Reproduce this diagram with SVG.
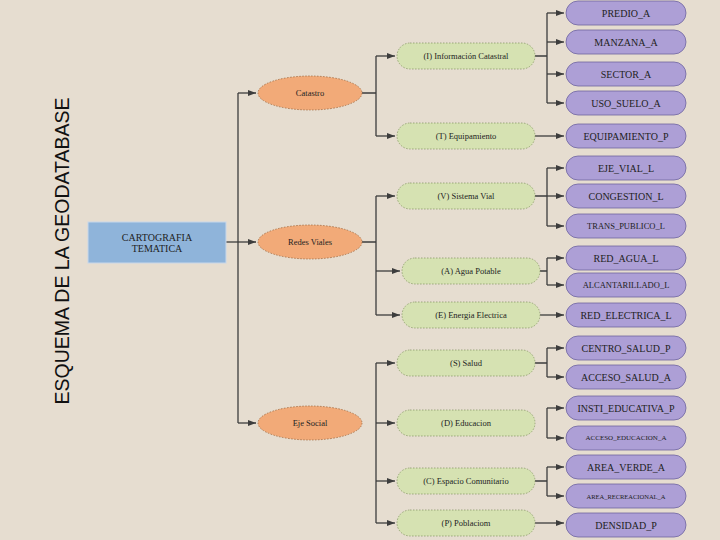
<svg xmlns="http://www.w3.org/2000/svg" width="720" height="540" viewBox="0 0 720 540">
<style>
text{font-family:"Liberation Serif",serif;text-anchor:middle;dominant-baseline:central;fill:#222}
.o{fill:#f2aa78;stroke:#a06a40;stroke-dasharray:1.5 1.5;stroke-width:0.8}
.g{fill:#d6e2b2;stroke:#8a9a6a;stroke-dasharray:1.5 1.5;stroke-width:0.8}
.p{fill:#ad9fd6;stroke:#6f64a0;stroke-width:0.8}
.c{fill:none;stroke:#3d3d3d;stroke-width:1.3}
.t{font-size:10px}
.s{font-size:8.5px}
</style>
<defs><marker id="a" markerWidth="8" markerHeight="6" refX="8" refY="3" orient="auto" markerUnits="userSpaceOnUse"><path d="M0,0L8,3L0,6z" fill="#3d3d3d"/></marker></defs>
<rect width="720" height="540" fill="#e6ddd0"/>
<text transform="translate(62,251) rotate(-90)" style="font-family:'Liberation Sans',sans-serif;font-size:19.5px;fill:#111">ESQUEMA DE LA GEODATABASE</text>
<g id="connectors" class="c">
<path d="M226,242H256" marker-end="url(#a)"/>
<path d="M238,93V423"/>
<path d="M238,93H256" marker-end="url(#a)"/>
<path d="M238,423H256" marker-end="url(#a)"/>
<path d="M362,93H376M376,56V136"/>
<path d="M376,56H395" marker-end="url(#a)"/><path d="M376,136H395" marker-end="url(#a)"/>
<path d="M362,242H376M376,196V315"/>
<path d="M376,196H395" marker-end="url(#a)"/><path d="M376,271H400" marker-end="url(#a)"/><path d="M376,315H400" marker-end="url(#a)"/>
<path d="M376,363V523"/>
<path d="M376,363H395" marker-end="url(#a)"/><path d="M376,423H395" marker-end="url(#a)"/><path d="M376,481H395" marker-end="url(#a)"/><path d="M376,523H395" marker-end="url(#a)"/>
<path d="M535,56H547M547,13V103"/>
<path d="M547,13H564" marker-end="url(#a)"/><path d="M547,42H564" marker-end="url(#a)"/><path d="M547,74H564" marker-end="url(#a)"/><path d="M547,103H564" marker-end="url(#a)"/>
<path d="M535,136H564" marker-end="url(#a)"/>
<path d="M535,196H547M547,168V226"/>
<path d="M547,168H564" marker-end="url(#a)"/><path d="M547,196H564" marker-end="url(#a)"/><path d="M547,226H564" marker-end="url(#a)"/>
<path d="M540,271H547M547,258V285"/>
<path d="M547,258H564" marker-end="url(#a)"/><path d="M547,285H564" marker-end="url(#a)"/>
<path d="M540,315H564" marker-end="url(#a)"/>
<path d="M535,363H547M547,348V377"/>
<path d="M547,348H564" marker-end="url(#a)"/><path d="M547,377H564" marker-end="url(#a)"/>
<path d="M547,408V438"/>
<path d="M547,408H564" marker-end="url(#a)"/><path d="M547,438H564" marker-end="url(#a)"/>
<path d="M535,481H547M547,467V496"/>
<path d="M547,467H564" marker-end="url(#a)"/><path d="M547,496H564" marker-end="url(#a)"/>
<path d="M535,523H564" marker-end="url(#a)"/>
</g>
<g id="root"><rect x="88" y="222" width="138" height="41" fill="#8fb4da" stroke="#c8d8ea"/><text x="157" y="237" class="t">CARTOGRAFIA</text><text x="157" y="248" class="t">TEMATICA</text></g>
<g id="catastro"><ellipse cx="310" cy="93" rx="52" ry="17" class="o"/><text x="310" y="93" class="s">Catastro</text></g>
<g id="redes"><ellipse cx="310" cy="242" rx="52" ry="17" class="o"/><text x="310" y="242" class="s">Redes Viales</text></g>
<g id="social"><ellipse cx="310" cy="423" rx="52" ry="17" class="o"/><text x="310" y="423" class="s">Eje Social</text></g>
<g id="info"><rect x="397" y="43" width="138" height="26" rx="13" class="g"/><text x="466" y="56" class="s">(I) Información Catastral</text></g>
<g id="equip"><rect x="397" y="123" width="138" height="26" rx="13" class="g"/><text x="466" y="136" class="s">(T) Equipamiento</text></g>
<g id="vial"><rect x="397" y="183" width="138" height="26" rx="13" class="g"/><text x="466" y="196" class="s">(V) Sistema Vial</text></g>
<g id="agua"><rect x="402" y="258" width="138" height="26" rx="13" class="g"/><text x="471" y="271" class="s">(A) Agua Potable</text></g>
<g id="energia"><rect x="402" y="302" width="138" height="26" rx="13" class="g"/><text x="471" y="315" class="s">(E) Energia Electrica</text></g>
<g id="salud"><rect x="397" y="350" width="138" height="26" rx="13" class="g"/><text x="466" y="363" class="s">(S) Salud</text></g>
<g id="educ"><rect x="397" y="410" width="138" height="26" rx="13" class="g"/><text x="466" y="423" class="s">(D) Educacion</text></g>
<g id="espacio"><rect x="397" y="468" width="138" height="26" rx="13" class="g"/><text x="466" y="481" class="s">(C) Espacio Comunitario</text></g>
<g id="pobl"><rect x="397" y="510" width="138" height="26" rx="13" class="g"/><text x="466" y="523" class="s">(P) Poblaciom</text></g>
<g id="l1"><rect x="566" y="1" width="120" height="24" rx="12" class="p"/><text x="626" y="13" class="t">PREDIO_A</text></g>
<g id="l2"><rect x="566" y="30" width="120" height="24" rx="12" class="p"/><text x="626" y="42" class="t">MANZANA_A</text></g>
<g id="l3"><rect x="566" y="62" width="120" height="24" rx="12" class="p"/><text x="626" y="74" class="t">SECTOR_A</text></g>
<g id="l4"><rect x="566" y="91" width="120" height="24" rx="12" class="p"/><text x="626" y="103" class="t">USO_SUELO_A</text></g>
<g id="l5"><rect x="566" y="124" width="120" height="24" rx="12" class="p"/><text x="626" y="136" class="t">EQUIPAMIENTO_P</text></g>
<g id="l6"><rect x="566" y="156" width="120" height="24" rx="12" class="p"/><text x="626" y="168" class="t">EJE_VIAL_L</text></g>
<g id="l7"><rect x="566" y="184" width="120" height="24" rx="12" class="p"/><text x="626" y="196" class="t">CONGESTION_L</text></g>
<g id="l8"><rect x="566" y="214" width="120" height="24" rx="12" class="p"/><text x="626" y="226" class="s">TRANS_PUBLICO_L</text></g>
<g id="l9"><rect x="566" y="246" width="120" height="24" rx="12" class="p"/><text x="626" y="258" class="t">RED_AGUA_L</text></g>
<g id="l10"><rect x="566" y="273" width="120" height="24" rx="12" class="p"/><text x="626" y="285" class="s">ALCANTARILLADO_L</text></g>
<g id="l11"><rect x="566" y="303" width="120" height="24" rx="12" class="p"/><text x="626" y="315" class="t">RED_ELECTRICA_L</text></g>
<g id="l12"><rect x="566" y="336" width="120" height="24" rx="12" class="p"/><text x="626" y="348" class="t">CENTRO_SALUD_P</text></g>
<g id="l13"><rect x="566" y="365" width="120" height="24" rx="12" class="p"/><text x="626" y="377" class="t">ACCESO_SALUD_A</text></g>
<g id="l14"><rect x="566" y="396" width="120" height="24" rx="12" class="p"/><text x="626" y="408" class="t">INSTI_EDUCATIVA_P</text></g>
<g id="l15"><rect x="566" y="426" width="120" height="24" rx="12" class="p"/><text x="626" y="438" style="font-size:7px">ACCESO_EDUCACION_A</text></g>
<g id="l16"><rect x="566" y="455" width="120" height="24" rx="12" class="p"/><text x="626" y="467" class="t">AREA_VERDE_A</text></g>
<g id="l17"><rect x="566" y="484" width="120" height="24" rx="12" class="p"/><text x="626" y="496" style="font-size:6.5px">AREA_RECREACIONAL_A</text></g>
<g id="l18"><rect x="566" y="513" width="120" height="24" rx="12" class="p"/><text x="626" y="525" class="t">DENSIDAD_P</text></g>
</svg>
